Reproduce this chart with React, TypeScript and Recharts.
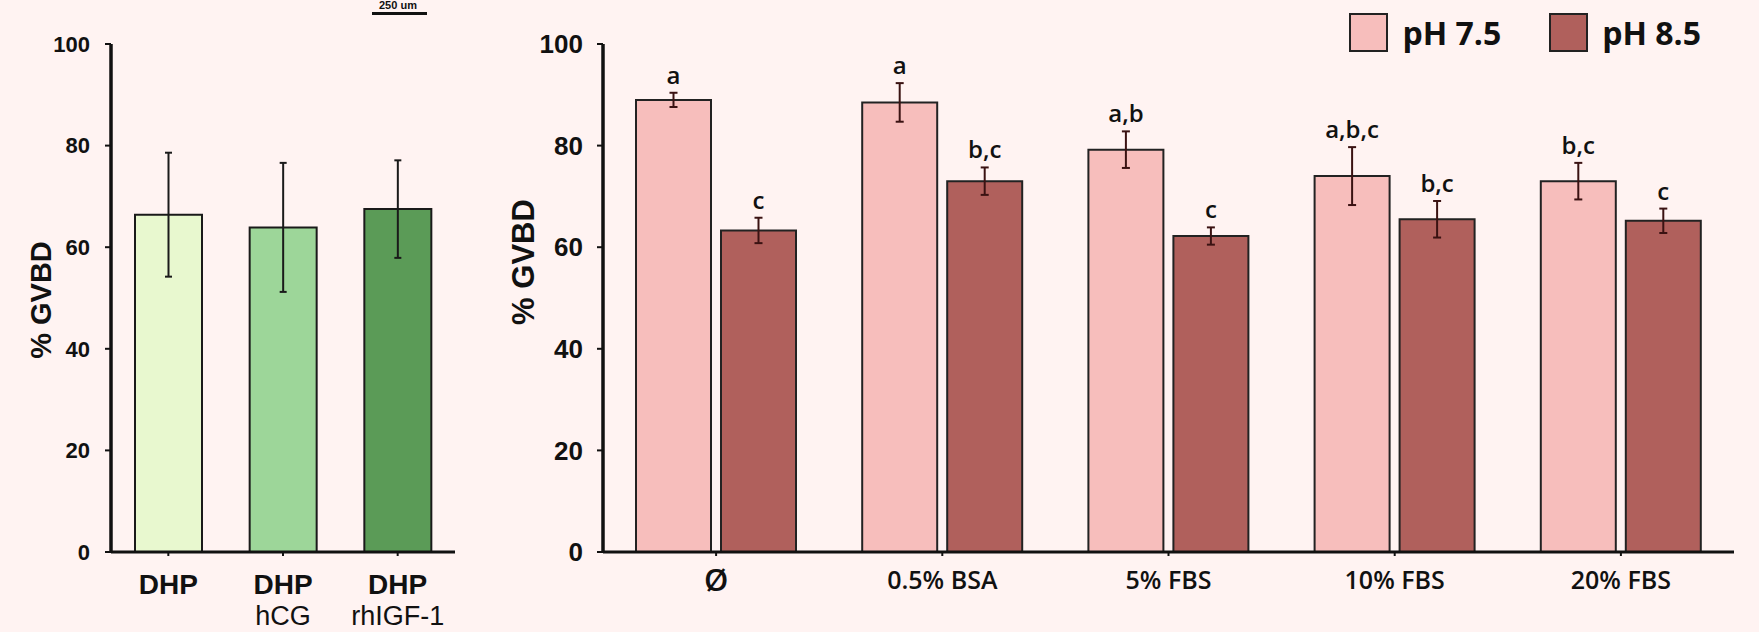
import React from "react";
import { BarChart, Bar, XAxis, YAxis, ErrorBar, LabelList, Legend, Cell } from "recharts";

// left panel
const leftCategories = ["DHP", "DHP\nhCG", "DHP\nrhIGF-1"];
const leftValues = [66.4, 63.9, 67.5];
const leftErrors = [12.2, 12.7, 9.6];
const leftColors = ["#E8F8CF", "#9DD699", "#5B9B57"];

// right panel
const rightCategories = ["Ø", "0.5% BSA", "5% FBS", "10% FBS", "20% FBS"];
const seriesNames = ["pH 7.5", "pH 8.5"];
const seriesColors = ["#F7BEBC", "#B0605C"];
const ph75Values = [89.0, 88.5, 79.2, 74.0, 73.0];
const ph75Errors = [1.4, 3.8, 3.6, 5.7, 3.6];
const ph85Values = [63.3, 73.0, 62.2, 65.5, 65.2];
const ph85Errors = [2.5, 2.7, 1.7, 3.6, 2.4];
const ph75Letters = ["a", "a", "a,b", "a,b,c", "b,c"];
const ph85Letters = ["c", "b,c", "c", "b,c", "c"];

const yTicks = [0, 20, 40, 60, 80, 100];

const leftData = leftCategories.map((name, i) => ({
  name,
  value: leftValues[i],
  err: leftErrors[i],
}));

const rightData = rightCategories.map((name, i) => ({
  name,
  ph75: ph75Values[i],
  ph75err: ph75Errors[i],
  ph85: ph85Values[i],
  ph85err: ph85Errors[i],
}));

const BG = "#FFF3F2";
const INK = "#111";

const LeftTick = (props: any) => {
  const { x, y, payload } = props;
  const lines = String(payload.value).split("\n");
  return (
    <g>
      <text x={x} y={y} dy={36} textAnchor="middle" fontFamily="Liberation Sans" fontWeight="bold" fontSize={28} fill={INK}>
        {lines[0]}
      </text>
      {lines[1] && (
        <text x={x} y={y} dy={67} textAnchor="middle" fontFamily="Liberation Sans" fontSize={27} fill={INK}>
          {lines[1]}
        </text>
      )}
    </g>
  );
};

const RightTick = (props: any) => {
  const { x, y, payload } = props;
  const isEmpty = payload.value === "Ø";
  return (
    <text
      x={x}
      y={y}
      dy={isEmpty ? 33 : 31}
      textAnchor="middle"
      fontFamily="Open Sans"
      fontWeight={600}
      fontSize={isEmpty ? 31 : 25}
      fill={INK}
    >
      {payload.value}
    </text>
  );
};

// shift = offset of the label centre from the middle of the axis
const yLabel = (size: number, dx: number, shift: number) => (props: any) => {
  const vb = props.viewBox || {};
  const cx = vb.x + dx;
  const cy = vb.y + vb.height / 2 + shift;
  return (
    <text
      x={cx}
      y={cy}
      transform={`rotate(-90, ${cx}, ${cy})`}
      textAnchor="middle"
      dominantBaseline="central"
      fontFamily="Liberation Sans"
      fontWeight="bold"
      fontSize={size}
      fill={INK}
    >
      % GVBD
    </text>
  );
};

const letterLabel = (values: number[], errors: number[], letters: string[]) => (props: any) => {
  const x = Number(props.x);
  const y = Number(props.y);
  const width = Number(props.width);
  const height = Number(props.height);
  const i = props.index;
  if (i == null) return null;
  const pxPerUnit = height / values[i];
  const top = y - errors[i] * pxPerUnit;
  return (
    <text x={x + width / 2} y={top - 9} textAnchor="middle" fontFamily="Open Sans" fontWeight={600} fontSize={24} fill={INK}>
      {letters[i]}
    </text>
  );
};

const LegendBox = () => (
  <div style={{ display: "flex", alignItems: "center" }}>
    {seriesNames.map((n, i) => (
      <div key={n} style={{ display: "flex", alignItems: "center", marginLeft: i === 0 ? 0 : 48 }}>
        <div
          style={{
            width: 35,
            height: 35,
            background: seriesColors[i],
            border: "2px solid #222",
            marginRight: 14,
          }}
        />
        <span style={{ fontFamily: "Open Sans", fontWeight: 700, fontSize: 32, color: INK, lineHeight: "39px" }}>{n}</span>
      </div>
    ))}
  </div>
);

export default function App() {
  return (
    <div style={{ position: "fixed", left: 0, top: 0, width: 1759, height: 632, background: BG, overflow: "hidden" }}>
      <div style={{ position: "absolute", left: 379, top: 0, fontFamily: "Liberation Sans", fontWeight: "bold", fontSize: 11, lineHeight: "11px", color: INK }}>
        250 um
      </div>
      <div style={{ position: "absolute", left: 372, top: 12, width: 55, height: 3, background: INK }} />

      <div style={{ position: "absolute", left: 0, top: 0 }}>
        <BarChart width={470} height={632} data={leftData} margin={{ top: 44, right: 15, bottom: 0, left: 0 }}>
          <XAxis
            dataKey="name"
            height={80}
            tick={<LeftTick />}
            interval={0}
            axisLine={{ stroke: INK, strokeWidth: 3 }}
            tickLine={{ stroke: INK, strokeWidth: 2 }}
            tickSize={4}
          />
          <YAxis
            domain={[0, 100]}
            ticks={yTicks}
            width={111}
            axisLine={{ stroke: INK, strokeWidth: 3.5 }}
            tickLine={{ stroke: INK, strokeWidth: 2 }}
            tickSize={6}
            tickMargin={15}
            tick={{ fontFamily: "Liberation Sans", fontWeight: "bold", fontSize: 22, fill: INK }}
            label={{ content: yLabel(29, 41, 2) }}
          />
          <Bar dataKey="value" barSize={67} stroke="#1a1a1a" strokeWidth={2} isAnimationActive={false}>
            {leftData.map((d, i) => (
              <Cell key={d.name} fill={leftColors[i]} />
            ))}
            <ErrorBar dataKey="err" width={3.5} stroke="#1a1a1a" strokeWidth={2} direction="y" />
          </Bar>
        </BarChart>
      </div>

      <div style={{ position: "absolute", left: 480, top: 0 }}>
        <BarChart
          width={1279}
          height={632}
          data={rightData}
          margin={{ top: 44, right: 25, bottom: 0, left: 0 }}
          barSize={75}
          barGap={10}
        >
          <XAxis
            dataKey="name"
            height={80}
            tick={<RightTick />}
            interval={0}
            axisLine={{ stroke: INK, strokeWidth: 3 }}
            tickLine={{ stroke: INK, strokeWidth: 2 }}
            tickSize={4}
          />
          <YAxis
            domain={[0, 100]}
            ticks={yTicks}
            width={123}
            axisLine={{ stroke: INK, strokeWidth: 3.5 }}
            tickLine={{ stroke: INK, strokeWidth: 2 }}
            tickSize={6}
            tickMargin={14}
            tick={{ fontFamily: "Liberation Sans", fontWeight: "bold", fontSize: 26, fill: INK }}
            label={{ content: yLabel(31, 43, -36) }}
          />
          <Legend
            layout="horizontal"
            verticalAlign="middle"
            align="center"
            content={<LegendBox />}
            wrapperStyle={{ top: 13, right: 58, left: "auto", width: "auto", height: "auto" }}
          />
          <Bar dataKey="ph75" name={seriesNames[0]} fill={seriesColors[0]} stroke="#222" strokeWidth={2} isAnimationActive={false}>
            <ErrorBar dataKey="ph75err" width={4} stroke="#3a1212" strokeWidth={2} direction="y" />
            <LabelList dataKey="ph75" content={letterLabel(ph75Values, ph75Errors, ph75Letters)} />
          </Bar>
          <Bar dataKey="ph85" name={seriesNames[1]} fill={seriesColors[1]} stroke="#222" strokeWidth={2} isAnimationActive={false}>
            <ErrorBar dataKey="ph85err" width={4} stroke="#3a1212" strokeWidth={2} direction="y" />
            <LabelList dataKey="ph85" content={letterLabel(ph85Values, ph85Errors, ph85Letters)} />
          </Bar>
        </BarChart>
      </div>
    </div>
  );
}
